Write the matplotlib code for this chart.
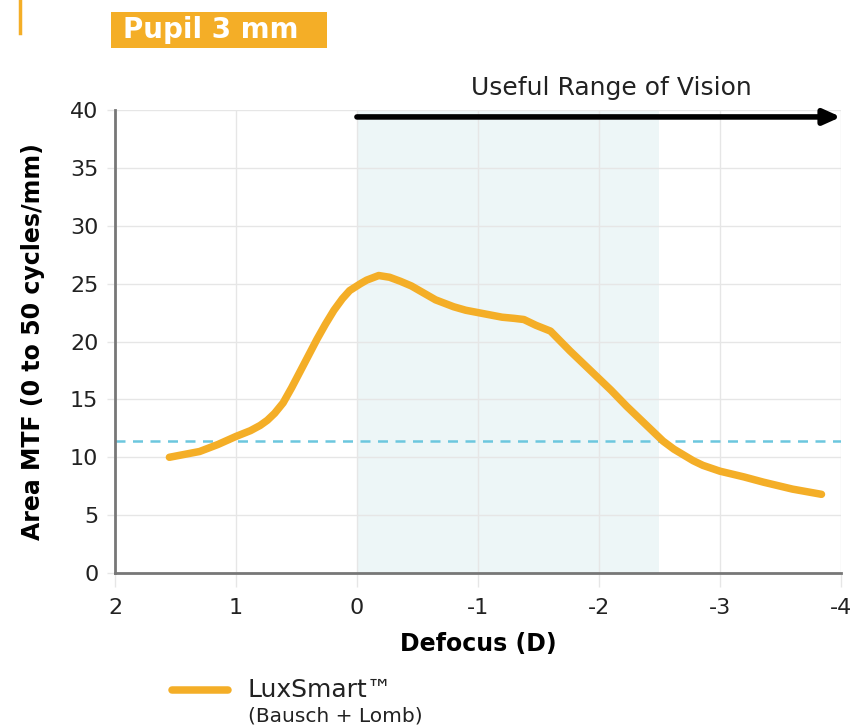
import matplotlib

matplotlib.use("Agg")
import matplotlib.pyplot as plt
from matplotlib.patches import Rectangle
from matplotlib.lines import Line2D

# Defocus (D) vs area MTF
defocus = [1.55, 1.3, 1.15, 1.0, 0.88, 0.80, 0.74, 0.68, 0.61, 0.54, 0.47,
           0.40, 0.33, 0.26, 0.19, 0.12, 0.06, -0.03, -0.08, -0.18, -0.27,
           -0.36, -0.45, -0.55, -0.65, -0.80, -0.9, -1.0, -1.1, -1.2, -1.3,
           -1.38, -1.48, -1.60, -1.76, -1.9, -2.0, -2.1, -2.23, -2.35, -2.53,
           -2.62, -2.7, -2.78, -2.86, -3.0, -3.2, -3.36, -3.6, -3.84]
mtf = [10.0, 10.5, 11.1, 11.8, 12.3, 12.75, 13.2, 13.8, 14.7, 16.0, 17.4,
       18.8, 20.2, 21.5, 22.7, 23.7, 24.4, 25.0, 25.3, 25.7, 25.55,
       25.2, 24.8, 24.2, 23.6, 23.0, 22.7, 22.5, 22.3, 22.1, 22.0,
       21.9, 21.4, 20.9, 19.2, 17.8, 16.8, 15.8, 14.4, 13.2, 11.4,
       10.7, 10.2, 9.7, 9.3, 8.8, 8.3, 7.85, 7.25, 6.8]

x_ticks = [2, 1, 0, -1, -2, -3, -4]
y_ticks = [0, 5, 10, 15, 20, 25, 30, 35, 40]
useful_range = (0, -2.5)
threshold = 11.4

ORANGE = "#F4AE27"
SHADE = "#EDF6F7"
DASH = "#6CC7DE"

plt.rcParams["font.family"] = ["DejaVu Sans"]

fig = plt.figure(figsize=(8.58, 7.26), dpi=100)
ax = fig.add_axes([0.134, 0.2107, 0.846, 0.6378])

ax.axvspan(*useful_range, color=SHADE, lw=0, zorder=0)
ax.axhline(threshold, color=DASH, lw=1.8, ls=(0, (4, 3)), zorder=2)
ax.plot(defocus, mtf, color=ORANGE, lw=5.4, solid_capstyle="round",
        solid_joinstyle="round", zorder=3)

ax.set_xlim(2, -4)
ax.set_ylim(0, 40)
ax.set_xticks(x_ticks)
ax.set_xticklabels([str(t) for t in x_ticks])
ax.set_yticks(y_ticks)
ax.grid(True, color="#e6e6e6", lw=1.0, zorder=1)
ax.set_axisbelow(True)
for side in ("top", "right"):
    ax.spines[side].set_visible(False)
for side in ("left", "bottom"):
    ax.spines[side].set_color("#777777")
    ax.spines[side].set_linewidth(2)
ax.tick_params(axis="x", length=10, color="#e6e6e6", width=1, labelsize=16,
               pad=8, labelcolor="#222222")
ax.tick_params(axis="y", length=6, color="#e6e6e6", width=1, labelsize=16,
               pad=6, labelcolor="#222222")

ax.set_xlabel("Defocus (D)", fontsize=17, fontweight="bold", labelpad=10)
ax.set_ylabel("Area MTF (0 to 50 cycles/mm)", fontsize=17, fontweight="bold",
              labelpad=18)

# useful range arrow + label
ax.annotate("", xy=(-4.0, 39.4), xytext=(0, 39.4), annotation_clip=False,
            arrowprops=dict(arrowstyle="-|>,head_length=1.0,head_width=0.45",
                            color="black", lw=4, shrinkA=0, shrinkB=0))
ax.text(-2.1, 41.9, "Useful Range of Vision", ha="center", va="center",
        fontsize=18, color="#222222", clip_on=False)

# header: small accent bar and title box
fig.add_artist(Line2D([20 / 858, 20 / 858], [1, 1 - 33 / 726], color=ORANGE,
                      lw=2.5, transform=fig.transFigure))
fig.add_artist(Rectangle((111 / 858, 1 - 48 / 726), 216 / 858, 36 / 726,
                         color=ORANGE, transform=fig.transFigure, lw=0))
fig.text(123 / 858, 1 - 30 / 726, "Pupil 3 mm", color="white", fontsize=20,
         fontweight="bold", ha="left", va="center")

# legend
fig.add_artist(Line2D([172 / 858, 228 / 858], [1 - 690 / 726] * 2, color=ORANGE,
                      lw=5.4, solid_capstyle="round", transform=fig.transFigure))
fig.text(248 / 858, 1 - 690 / 726, "LuxSmart™", fontsize=18, color="#222222",
         ha="left", va="center")
fig.text(248 / 858, 1 - 716 / 726, "(Bausch + Lomb)", fontsize=14.5,
         color="#222222", ha="left", va="center")

fig.savefig("out.png", dpi=100)
